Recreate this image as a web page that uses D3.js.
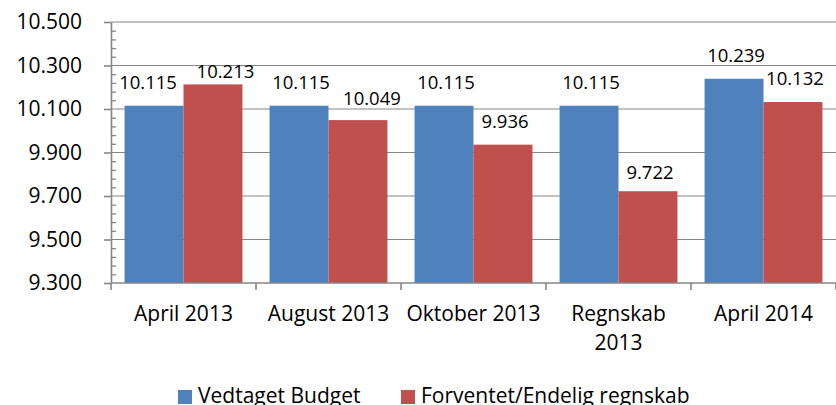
<!DOCTYPE html>
<html>
<head>
<meta charset="utf-8">
<script src="https://cdn.jsdelivr.net/npm/d3@7"></script>
<style>
  html, body { margin: 0; padding: 0; background: #fff; }
  svg { display: block; font-family: 'Open Sans', 'Liberation Sans', sans-serif; }
</style>
</head>
<body>
<div id="chart"></div>
<script>
const categories = ['April 2013', 'August 2013', 'Oktober 2013', 'Regnskab 2013', 'April 2014'];
const seriesNames = ['Vedtaget Budget', 'Forventet/Endelig regnskab'];
const budget = [10.115, 10.115, 10.115, 10.115, 10.239];
const forventet = [10.213, 10.049, 9.936, 9.722, 10.132];
const yTicks = [9.3, 9.5, 9.7, 9.9, 10.1, 10.3, 10.5];

const colors = ['#4F81BD', '#C0504D'];
// small manual nudges for the data labels, as placed in the original
const labelNudge = [
    [[-8, 0], [0, 0], [0, 0], [0, 0], [0, 0]],
    [[10.5, 10.5], [12, 2], [0, 0], [0, 5], [0, 0]]
];

const width = 836, height = 405;
const margin = { top: 22, right: 0, bottom: 122, left: 111 };

const svg = d3.select('#chart').append('svg')
    .attr('width', width)
    .attr('height', height);

const x0 = d3.scaleBand().domain(categories)
    .range([margin.left, width - margin.right]).padding(0);
const x1 = d3.scaleBand().domain(d3.range(seriesNames.length))
    .range([0, x0.bandwidth()]).paddingInner(0).paddingOuter(0.23);
const y = d3.scaleLinear().domain([9.3, 10.5])
    .range([height - margin.bottom, margin.top]);

const axisColor = '#868686';

// gridlines
svg.append('g')
    .selectAll('line')
    .data(yTicks.slice(1))
    .enter().append('line')
    .attr('x1', margin.left)
    .attr('x2', width - margin.right)
    .attr('y1', d => y(d))
    .attr('y2', d => y(d))
    .attr('stroke', axisColor)
    .attr('stroke-width', 1);

// bars
const rows = categories.map((c, i) => [budget[i], forventet[i]]);
const groups = svg.append('g')
    .selectAll('g')
    .data(rows)
    .enter().append('g')
    .attr('transform', (d, i) => `translate(${x0(categories[i])},0)`);

groups.selectAll('rect')
    .data(d => d)
    .enter().append('rect')
    .attr('x', (d, j) => x1(j))
    .attr('y', d => y(d))
    .attr('width', x1.bandwidth())
    .attr('height', d => y(9.3) - y(d))
    .attr('fill', (d, j) => colors[j]);

// data labels
groups.each(function(row, i) {
    d3.select(this).selectAll('text')
        .data(row)
        .enter().append('text')
        .attr('x', (d, j) => x1(j) + x1.bandwidth() / 2 + 2 + labelNudge[j][i][0])
        .attr('y', (d, j) => y(d) - 17 + labelNudge[j][i][1])
        .attr('text-anchor', 'middle')
        .attr('font-size', '18.5px')
        .attr('fill', '#000')
        .text(d => d3.format('.3f')(d));
});

// y axis
const yAxis = svg.append('g')
    .attr('transform', `translate(${margin.left},0)`)
    .call(d3.axisLeft(y).tickValues(yTicks).tickFormat(d3.format('.3f'))
        .tickSize(7).tickPadding(22).tickSizeOuter(0));
yAxis.select('.domain').attr('stroke', axisColor).attr('stroke-width', 1.6);
yAxis.selectAll('.tick line').attr('stroke', axisColor).attr('stroke-width', 1.6);
yAxis.selectAll('.tick text')
    .attr('font-size', '21px')
    .attr('font-family', "'Open Sans', sans-serif")
    .attr('fill', '#000');

// minor ticks
const minorTicks = d3.range(9.3, 10.5001, 0.04).filter(v => Math.abs(((v - 9.3) / 0.2) - Math.round((v - 9.3) / 0.2)) > 1e-6);
const yMinor = svg.append('g')
    .attr('transform', `translate(${margin.left},0)`)
    .call(d3.axisRight(y).tickValues(minorTicks).tickFormat('').tickSize(5).tickSizeOuter(0));
yMinor.select('.domain').remove();
yMinor.selectAll('.tick line').attr('stroke', axisColor).attr('stroke-width', 1.3);

// x axis
const xAxisY = y(9.3);
svg.append('line')
    .attr('x1', margin.left).attr('x2', width - margin.right)
    .attr('y1', xAxisY).attr('y2', xAxisY)
    .attr('stroke', axisColor).attr('stroke-width', 1.6);

const boundaries = categories.map(c => x0(c)).concat([x0.range()[1]]);
svg.append('g')
    .selectAll('line')
    .data(boundaries)
    .enter().append('line')
    .attr('x1', d => d).attr('x2', d => d)
    .attr('y1', xAxisY).attr('y2', xAxisY + 7)
    .attr('stroke', axisColor).attr('stroke-width', 1.6);

const catLabels = svg.append('g')
    .selectAll('text')
    .data(categories)
    .enter().append('text')
    .attr('x', d => x0(d) + x0.bandwidth() / 2)
    .attr('y', xAxisY + 38)
    .attr('text-anchor', 'middle')
    .attr('font-size', '21px')
    .attr('fill', '#000')
    .text(d => d);

// wrap long category names onto two lines
catLabels.each(function(d) {
    const t = d3.select(this);
    if (this.getComputedTextLength() > 135) {
        const words = d.split(' ');
        const last = words.pop();
        const xPos = t.attr('x');
        t.text(null);
        t.append('tspan').attr('x', xPos).attr('dy', 0).text(words.join(' '));
        t.append('tspan').attr('x', xPos).attr('dy', 29).text(last);
    }
});

// legend
const legendX = [178, 401];
const legend = svg.append('g')
    .selectAll('g')
    .data(seriesNames)
    .enter().append('g')
    .attr('transform', (d, i) => `translate(${legendX[i]},390)`);
legend.append('rect')
    .attr('width', 14).attr('height', 14)
    .attr('fill', (d, i) => colors[i]);
legend.append('text')
    .attr('x', 20).attr('y', 13)
    .attr('font-size', '21px')
    .attr('fill', '#000')
    .text(d => d);
</script>
</body>
</html>
